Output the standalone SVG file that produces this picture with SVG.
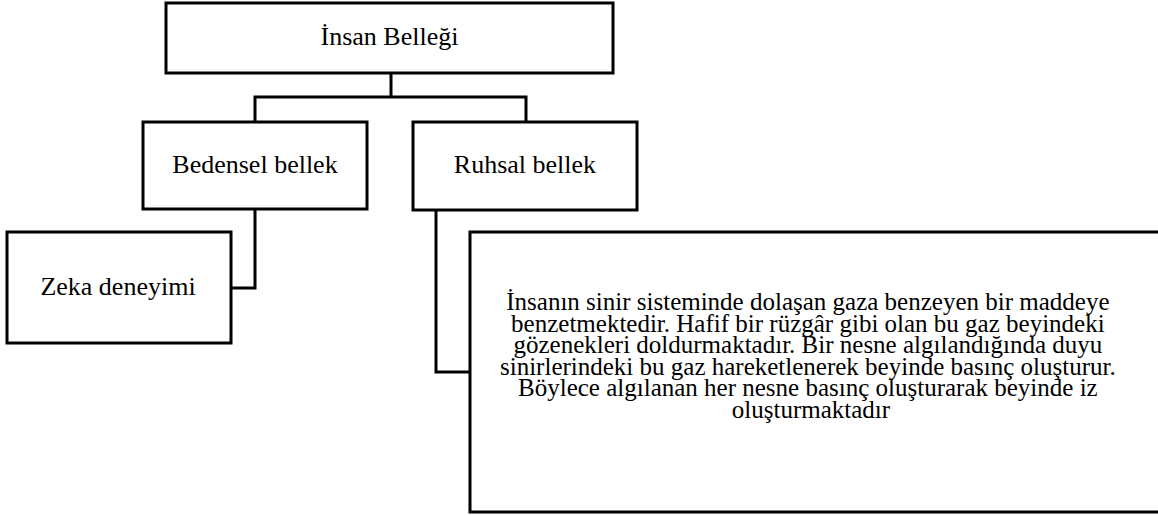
<svg xmlns="http://www.w3.org/2000/svg" width="1158" height="516" viewBox="0 0 1158 516">
<style>
.box{fill:#fff;stroke:#000;stroke-width:3}
.t{font-family:"Liberation Serif","Times New Roman",serif;font-size:26px;fill:#000;text-anchor:middle}
.p{font-family:"Liberation Serif","Times New Roman",serif;font-size:25px;fill:#000;text-anchor:middle}
.c{fill:none;stroke:#000;stroke-width:3}
</style>
<rect width="1158" height="516" fill="#fff"/>
<g id="connectors">
<path class="c" d="M391 73 V97"/>
<path class="c" d="M255 122 V97 H526 V122"/>
<path class="c" d="M255 209 V288 H231"/>
<path class="c" d="M436 210 V372 H470"/>
</g>
<g id="insan-bellegi">
<rect class="box" x="166" y="3" width="447" height="70"/>
<text class="t" x="389.5" y="45">İnsan Belleği</text>
</g>
<g id="bedensel-bellek">
<rect class="box" x="143" y="122" width="224" height="87"/>
<text class="t" x="255" y="173">Bedensel bellek</text>
</g>
<g id="ruhsal-bellek">
<rect class="box" x="413" y="122" width="224" height="88"/>
<text class="t" x="525" y="173">Ruhsal bellek</text>
</g>
<g id="zeka-deneyimi">
<rect class="box" x="7" y="232" width="224" height="111"/>
<text class="t" x="118" y="295">Zeka deneyimi</text>
</g>
<g id="ruhsal-aciklama">
<rect class="box" x="470" y="232" width="700" height="280"/>
<text class="p" x="811">
<tspan x="811" y="310">İnsanın sinir sisteminde dolaşan gaza benzeyen bir maddeye</tspan>
<tspan x="811" y="331.5">benzetmektedir. Hafif bir rüzgâr gibi olan bu gaz beyindeki</tspan>
<tspan x="811" y="353">gözenekleri doldurmaktadır. Bir nesne algılandığında duyu</tspan>
<tspan x="811" y="374.5">sinirlerindeki bu gaz hareketlenerek beyinde basınç oluşturur.</tspan>
<tspan x="811" y="396">Böylece algılanan her nesne basınç oluşturarak beyinde iz</tspan>
<tspan x="811" y="417.5">oluşturmaktadır</tspan>
</text>
</g>
</svg>
